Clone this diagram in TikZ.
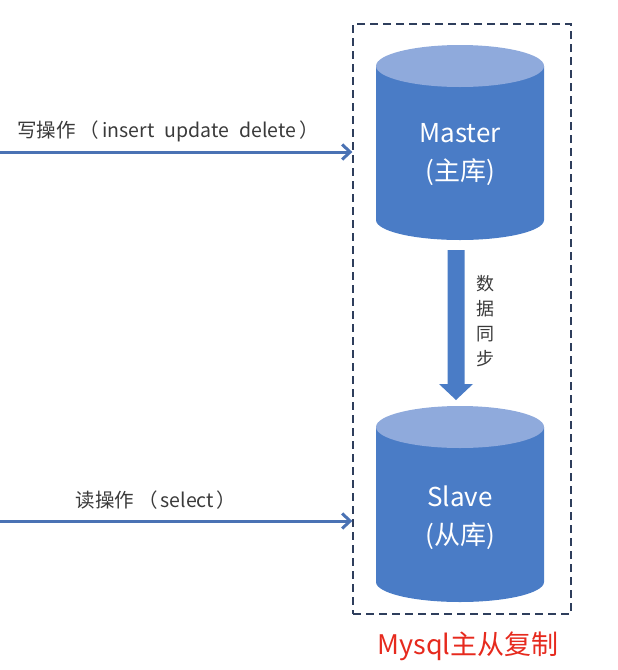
\documentclass[tikz,border=0pt]{standalone}
\usepackage{fontspec}
\setmainfont{Noto Sans CJK SC}
\usetikzlibrary{arrows.meta}
\definecolor{dbblue}{HTML}{4A7CC6}
\definecolor{dbtop}{HTML}{8FAADC}
\definecolor{boxc}{HTML}{2E3E5C}
\definecolor{arrowc}{HTML}{4A72B4}
\definecolor{titlered}{HTML}{E62A1E}
\definecolor{labelc}{HTML}{3A3A3A}
\tikzset{
  dbbody/.style={fill=dbblue, draw=none},
  dbcap/.style={fill=dbtop, draw=none},
  dbtext/.style={text=white, font=\fontsize{26}{38}\selectfont, align=center},
  flow/.style={draw=arrowc, line width=3pt, -{Straight Barb[length=8pt,width=15pt,line width=3pt]}},
  flowlabel/.style={text=labelc, font=\fontsize{19.5}{22}\selectfont},
  groupbox/.style={draw=boxc, line width=1.3pt, dash pattern=on 8pt off 5pt},
}
\newcommand\dbcylinder[3]{%
  \fill[dbbody] (#1-84,#2) -- (#1-84,#3) arc[start angle=180,end angle=360,x radius=84,y radius=20] -- (#1+84,#2) -- cycle;
  \fill[dbcap] (#1,#2) ellipse[x radius=84,y radius=21];
}
\begin{document}
\begin{tikzpicture}[x=1pt,y=1pt]
\useasboundingbox (0,0) rectangle (618,-670);
% group box
\node[groupbox, minimum width=218pt, minimum height=590pt, inner sep=0pt] (box) at (462,-319) {};
% cylinders
\dbcylinder{460}{-66}{-220}
\dbcylinder{460}{-427}{-582}
\node[dbtext] (master) at (460,-155) {Master\\(主库)};
\node[dbtext] (slave) at (460,-518) {Slave\\(从库)};
\coordinate (mbot) at (456,-250);
\coordinate (stop) at (456,-400);
% sync block arrow
\fill[dbblue] ([xshift=-8.5]mbot) -- ([xshift=8.5]mbot) -- ([xshift=8.5,yshift=16]stop) -- ([xshift=17,yshift=16]stop) -- (stop) -- ([xshift=-17,yshift=16]stop) -- ([xshift=-8.5,yshift=16]stop) -- cycle;
\node[flowlabel, font=\fontsize{18}{25}\selectfont, align=center] (sync) at (485,-321) {数\\据\\同\\步};
% incoming arrows
\coordinate (wstart) at (0,-152);
\coordinate (rstart) at (0,-521);
\draw[flow] (wstart) -- (wstart -| box.west) coordinate (wend);
\draw[flow] (rstart) -- (rstart -| box.west) coordinate (rend);
\node[flowlabel] (wlabel) at (168,-131) {写操作\hspace{4pt}（\hspace{3pt}insert\hspace{10pt}update\hspace{10pt}delete\hspace{3pt}）};
\node[flowlabel] (rlabel) at (156,-500) {读操作\hspace{4pt}（\hspace{3pt}select\hspace{3pt}）};
% title
\node[text=titlered, font=\fontsize{27}{32}\selectfont] (title) at (468,-646) {Mysql主从复制};
\end{tikzpicture}
\end{document}
